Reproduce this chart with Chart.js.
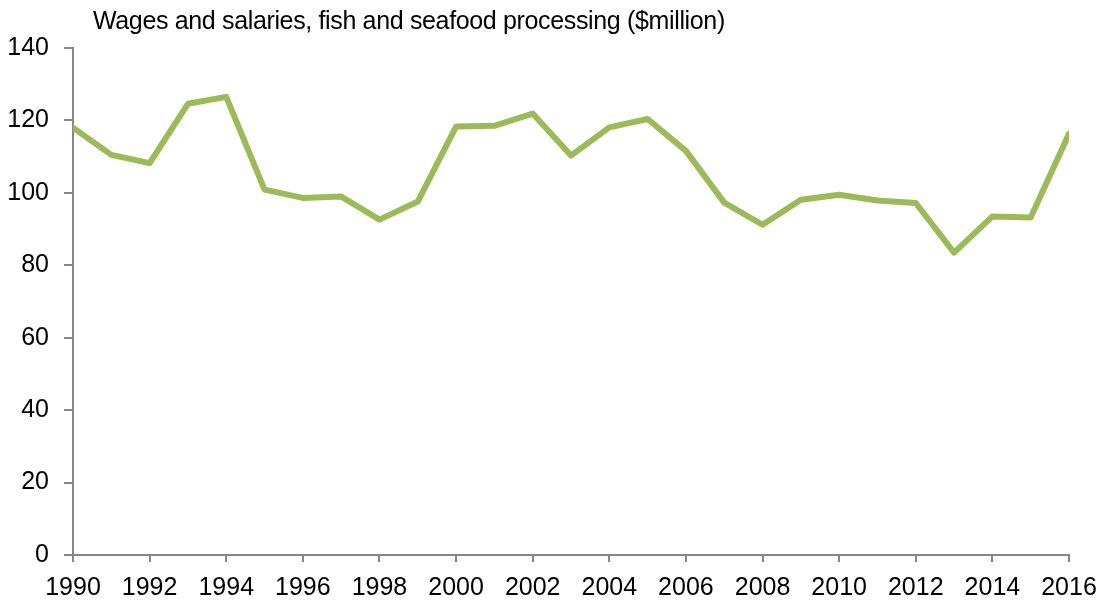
<!DOCTYPE html>
<html>
<head>
<meta charset="utf-8">
<script src="https://cdn.jsdelivr.net/npm/chart.js@4"></script>
<style>
  body { margin: 0; background: #fff; }
  #wrap { position: relative; width: 1100px; height: 605px; }
  #title {
    position: absolute; left: 93px; top: 8px;
    font-family: "Liberation Sans", Arial, sans-serif;
    font-size: 25px; line-height: 25px; color: #000;
    letter-spacing: -0.35px; white-space: nowrap;
  }
</style>
</head>
<body>
<div id="wrap">
  <canvas id="lineChart" width="1100" height="605"></canvas>
  <div id="title">Wages and salaries, fish and seafood processing ($million)</div>
</div>
<script>
// Data
const years = [1990, 1991, 1992, 1993, 1994, 1995, 1996, 1997, 1998, 1999,
               2000, 2001, 2002, 2003, 2004, 2005, 2006, 2007, 2008, 2009,
               2010, 2011, 2012, 2013, 2014, 2015, 2016];
const wages = [118.0, 110.5, 108.2, 124.6, 126.5, 100.9, 98.6, 99.0, 92.6, 97.6,
               118.3, 118.5, 121.9, 110.3, 118.1, 120.4, 111.6, 97.3, 91.2, 98.1,
               99.5, 97.9, 97.2, 83.5, 93.5, 93.2, 116.3];
const yTicks = [0, 20, 40, 60, 80, 100, 120, 140];

const axisGrey = "#878787";
const tickFont = { family: "'Liberation Sans', Arial, sans-serif", size: 25 };

const ctx = document.getElementById("lineChart");
new Chart(ctx, {
    type: "line",
    data: {
        datasets: [{
            label: "Wages and salaries",
            data: years.map((y, i) => ({ x: y, y: wages[i] })),
            borderColor: "#9BBB59",
            borderWidth: 6,
            pointRadius: 0,
            tension: 0,
            borderJoinStyle: "round",
            borderCapStyle: "round"
        }]
    },
    options: {
        responsive: false,
        animation: false,
        layout: { padding: { top: 48, right: 31, left: 0, bottom: 0 } },
        plugins: {
            legend: { display: false },
            tooltip: { enabled: false }
        },
        scales: {
            x: {
                type: "linear",
                min: years[0],
                max: years[years.length - 1],
                grid: { display: true, drawOnChartArea: false, drawTicks: true, tickLength: 7, color: axisGrey, lineWidth: 2 },
                border: { color: axisGrey, width: 2 },
                ticks: {
                    stepSize: 2,
                    color: "#000",
                    font: tickFont,
                    padding: 11,
                    maxRotation: 0,
                    callback: v => String(v)
                },
                // keep the plot edges fixed, labels may overhang
                afterFit: scale => {
                    scale.height = 50;
                    scale.paddingLeft = 0;
                    scale.paddingRight = 0;
                }
            },
            y: {
                min: 0,
                max: 140,
                afterBuildTicks: scale => { scale.ticks = yTicks.map(v => ({ value: v })); },
                grid: { display: true, drawOnChartArea: false, drawTicks: true, tickLength: 9, color: axisGrey, lineWidth: 2 },
                border: { color: axisGrey, width: 2 },
                ticks: {
                    color: "#000",
                    font: tickFont,
                    padding: 15
                },
                afterFit: scale => {
                    scale.width = 73;
                    scale.paddingTop = 0;
                    scale.paddingBottom = 0;
                }
            }
        }
    }
});
</script>
</body>
</html>
